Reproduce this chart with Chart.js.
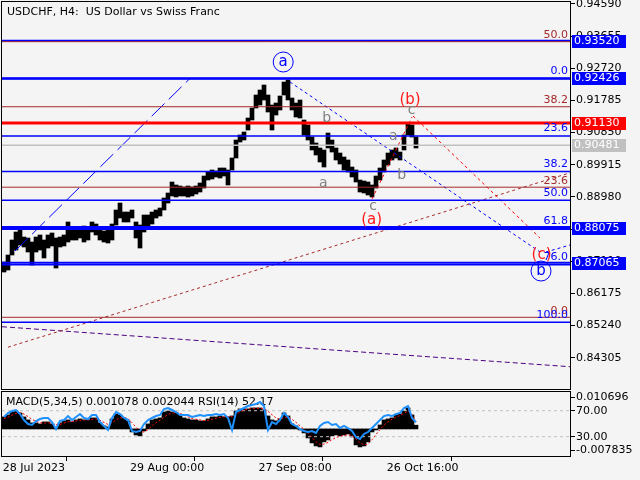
<!DOCTYPE html>
<html>
<head>
<meta charset="utf-8">
<script src="https://cdn.jsdelivr.net/npm/chart.js@4.4.0/dist/chart.umd.min.js"></script>
<style>
  body { margin: 0; background: #f4f4f4; width: 640px; height: 480px; overflow: hidden; }
  #main { position: absolute; left: 0; top: 0; }
  #sub { position: absolute; left: 0; top: 390px; }
</style>
</head>
<body>
<canvas id="main" width="640" height="390"></canvas>
<canvas id="sub" width="640" height="90"></canvas>
<script>
// ---- data (x = bar index, one bar every ~4 H4 candles) ----
const barHigh = [
  0.87086,0.87290,0.87726,0.87959,0.88017,0.87813,0.87784,0.87668,0.87813,0.87872,
  0.87726,0.87872,0.87930,0.87784,0.87813,0.87872,0.88250,0.88017,0.88075,0.88046,
  0.88133,0.88075,0.88250,0.88191,0.88017,0.87988,0.88075,0.88191,0.88599,0.88802,
  0.88540,0.88540,0.88599,0.88250,0.88162,0.88453,0.88453,0.88540,0.88599,0.88657,
  0.88948,0.89093,0.89413,0.89326,0.89297,0.89268,0.89297,0.89268,0.89297,0.89384,
  0.89587,0.89704,0.89762,0.89733,0.89820,0.89820,0.89762,0.90111,0.90634,0.90780,
  0.90867,0.91274,0.91565,0.91943,0.92089,0.92234,0.91943,0.91652,0.91710,0.91914,
  0.92321,0.92379,0.91856,0.91710,0.91798,0.91216,0.91071,0.90722,0.90547,0.90402,
  0.90344,0.90838,0.90634,0.90402,0.90256,0.90140,0.90053,0.89849,0.89762,0.89471,
  0.89442,0.89413,0.89326,0.89587,0.89820,0.90053,0.90256,0.90344,0.90402,0.90285,
  0.90780,0.91129,0.91071,0.90722
];
const barLow = [
  0.86795,0.86854,0.87290,0.87435,0.87581,0.87523,0.87377,0.86999,0.87377,0.87435,
  0.87203,0.87493,0.87552,0.86912,0.87523,0.87552,0.87668,0.87726,0.87726,0.87784,
  0.87668,0.87726,0.87959,0.87872,0.87726,0.87668,0.87639,0.87726,0.88162,0.88366,
  0.88250,0.88250,0.88366,0.87784,0.87493,0.87959,0.88075,0.88191,0.88366,0.88424,
  0.88599,0.88802,0.89006,0.88977,0.89006,0.89006,0.88977,0.89006,0.89064,0.89122,
  0.89238,0.89471,0.89500,0.89558,0.89529,0.89587,0.89326,0.89762,0.90111,0.90576,
  0.90634,0.90925,0.91216,0.91565,0.91652,0.91798,0.91449,0.90925,0.91361,0.91507,
  0.91943,0.91798,0.91507,0.91303,0.91274,0.90780,0.90634,0.90344,0.90198,0.89995,
  0.89849,0.90402,0.90285,0.90053,0.89936,0.89762,0.89704,0.89558,0.89413,0.89122,
  0.89093,0.89035,0.88977,0.89238,0.89471,0.89704,0.89907,0.90053,0.90111,0.90053,
  0.90344,0.90780,0.90722,0.90402
];
const macd = [
  0.00348,0.00405,0.00492,0.00521,0.00463,0.00348,0.00261,0.00174,0.00174,0.00145,
  0.00203,0.00203,0.00145,0.00029,0.00174,0.00232,0.00261,0.00203,0.00261,0.00290,
  0.00261,0.00261,0.00319,0.00319,0.00174,0.00087,0.00058,0.00290,0.00434,0.00405,
  0.00319,0.00232,-0.00087,-0.00174,-0.00203,-0.00058,0.00145,0.00261,0.00290,0.00319,
  0.00492,0.00521,0.00492,0.00463,0.00405,0.00319,0.00290,0.00261,0.00261,0.00232,
  0.00232,0.00290,0.00348,0.00348,0.00376,0.00348,0.00348,0.00376,0.00521,0.00579,
  0.00579,0.00579,0.00608,0.00608,0.00608,0.00550,0.00376,0.00261,0.00232,0.00290,
  0.00463,0.00376,0.00145,0.00087,-0.00029,-0.00116,-0.00261,-0.00405,-0.00492,-0.00521,
  -0.00376,-0.00319,-0.00203,-0.00174,-0.00203,-0.00174,-0.00145,-0.00232,-0.00463,-0.00521,
  -0.00492,-0.00376,-0.00087,-0.00029,0.00116,0.00261,0.00290,0.00319,0.00405,0.00434,
  0.00521,0.00608,0.00405,0.00108
];
const signal = [
  0.00300,0.00340,0.00400,0.00450,0.00470,0.00430,0.00360,0.00280,0.00220,0.00180,
  0.00170,0.00180,0.00170,0.00120,0.00130,0.00170,0.00210,0.00210,0.00230,0.00250,
  0.00260,0.00260,0.00280,0.00290,0.00250,0.00190,0.00130,0.00180,0.00260,0.00320,
  0.00330,0.00300,0.00180,0.00050,-0.00070,-0.00090,-0.00020,0.00090,0.00180,0.00250,
  0.00340,0.00420,0.00460,0.00470,0.00450,0.00400,0.00350,0.00300,0.00280,0.00260,
  0.00240,0.00250,0.00280,0.00310,0.00340,0.00350,0.00350,0.00360,0.00420,0.00490,
  0.00540,0.00570,0.00590,0.00600,0.00600,0.00590,0.00510,0.00410,0.00320,0.00280,
  0.00330,0.00350,0.00280,0.00190,0.00090,-0.00010,-0.00120,-0.00250,-0.00370,-0.00450,
  -0.00440,-0.00390,-0.00310,-0.00250,-0.00210,-0.00190,-0.00170,-0.00190,-0.00290,-0.00400,
  -0.00460,-0.00440,-0.00310,-0.00160,-0.00020,0.00110,0.00210,0.00280,0.00340,0.00390,
  0.00450,0.00520,0.00420,0.00204
];
const rsi = [
  60.3,66.5,69.5,71.1,64.9,55.7,49.5,48.0,54.2,57.2,
  58.8,58.8,52.6,41.8,54.2,55.7,61.8,55.7,60.3,64.9,
  58.8,57.2,63.4,63.4,52.6,46.5,40.3,58.8,68.0,64.9,
  58.8,55.7,38.8,37.2,38.8,49.5,55.7,58.8,61.8,63.4,
  72.6,74.2,71.1,68.0,63.4,63.4,63.4,60.3,61.8,63.4,
  61.8,63.4,63.4,64.9,63.4,64.9,58.8,40.3,68.0,71.1,
  74.2,77.2,78.8,80.3,83.4,77.2,40.3,52.6,49.5,55.7,
  66.5,60.3,49.5,46.5,41.8,38.8,37.2,38.8,35.7,46.5,
  51.1,52.6,48.0,49.5,43.4,46.5,43.4,38.8,29.5,26.5,
  34.2,37.2,43.4,49.5,55.7,61.8,63.4,61.8,64.9,66.5,
  74.2,77.2,58.8,52.2
];
const rsiLevels = [70, 30];

const dateLabels = ['28 Jul 2023', '29 Aug 00:00', '27 Sep 08:00', '26 Oct 16:00'];
const dateTickPos = [-0.33, 31.5, 63.6, 95.7];
const priceTicks = [0.94590,0.93655,0.92720,0.91785,0.90850,0.89915,0.88980,0.88045,0.87110,0.86175,0.85240,0.84305];

// horizontal price levels with their boxes on the axis
const levelPrices = [0.93520, 0.92426, 0.91130, 0.90481, 0.88075, 0.87065];
const levelColors = ['#0000ff', '#0000ff', '#ff0000', '#c0c0c0', '#0000ff', '#0000ff'];
const levelWidths = [2, 2.5, 3, 1.5, 4, 2];

// fibonacci grids
const fibBlue = [0.92426, 0.90752, 0.89716, 0.88880, 0.88043, 0.87005, 0.85333];
const fibBlueText = ['0.0', '23.6', '38.2', '50.0', '61.8', '76.0', '100.0'];
const fibBrown = [0.85478, 0.89262, 0.91602, 0.93494];
const fibBrownText = ['0.0', '23.6', '38.2', '50.0'];

// trend lines: [x1, price1, x2, price2]
const trendBlueDash = [2.75, 0.87406, 46.5, 0.92426];
const trendBlueDot = [71.5, 0.92321, 134, 0.87377];
const trendBlueDot2 = [135.5, 0.87377, 141.5, 0.87581];
const trendRedDot = [102.25, 0.91333, 134, 0.87784];
const trendRedUp = [92, 0.88919, 102, 0.91303];
const channelBrown = [1, 0.84609, 141.5, 0.89680];
const channelPurple = [-0.5, 0.85204, 141.5, 0.84041];

// wave labels
const waveText = ['a', '(b)', 'c', 'b', 'a', 'a', 'b', 'c', '(a)', '(c)', 'b'];
const waveX = [69.8, 101.5, 101.9, 80.7, 79.8, 97.3, 99.4, 92.3, 91.9, 134.4, 134.25];
const waveY = [0.92903, 0.91798, 0.91507, 0.91266, 0.89375, 0.90730, 0.89617, 0.88695, 0.88308, 0.87290, 0.86824];
const waveKind = ['circle', 'red', 'gray', 'gray', 'gray', 'gray', 'gray', 'gray', 'red', 'red', 'circle'];

const X_MIN = -0.5, X_MAX = 141.5;
const FONT = '"DejaVu Sans"';
Chart.defaults.font.family = 'DejaVu Sans';
Chart.defaults.font.size = 11;
Chart.defaults.color = '#000';

function hLine(p, color, w) {
  return { type: 'line', data: [{x: X_MIN, y: p}, {x: X_MAX, y: p}], borderColor: color,
           borderWidth: w, pointRadius: 0, order: 1 };
}
function seg(t, color, w, dash) {
  return { type: 'line', data: [{x: t[0], y: t[1]}, {x: t[2], y: t[3]}], borderColor: color,
           borderWidth: w, borderDash: dash, pointRadius: 0, order: 1 };
}

const datasets = [{
  type: 'bar',
  data: barHigh.map((h, i) => ({x: i, y: [barLow[i], h]})),
  backgroundColor: '#000',
  barPercentage: 1,
  categoryPercentage: 1,
  order: 10
}];
fibBrown.forEach(p => datasets.push(hLine(p, '#a52a2a', 1)));
fibBlue.forEach(p => datasets.push(hLine(p, '#0000ff', 1.5)));
levelPrices.forEach((p, i) => datasets.push(hLine(p, levelColors[i], levelWidths[i])));
datasets.push(seg(trendBlueDash, '#0000ff', 1, [18, 6]));
datasets.push(seg(trendBlueDot, '#0000ff', 1, [3, 3]));
datasets.push(seg(trendBlueDot2, '#0000ff', 1, [3, 3]));
datasets.push(seg(trendRedDot, '#ff0000', 1, [3, 3]));
datasets.push(seg(trendRedUp, '#ff0000', 1, [3, 3]));
datasets.push(seg(channelBrown, '#a52a2a', 1, [3, 3]));
datasets.push(seg(channelPurple, '#4b0082', 1, [5, 3]));

const mainOverlay = {
  id: 'mainOverlay',
  afterDraw(chart) {
    const {ctx, chartArea: a, scales: {x, y}} = chart;
    ctx.save();
    ctx.strokeStyle = '#000';
    ctx.lineWidth = 1;
    ctx.strokeRect(a.left - 0.5, a.top - 0.5, a.right - a.left + 1, a.bottom - a.top + 1);

    ctx.font = '11px ' + FONT;
    ctx.fillStyle = '#000';
    ctx.textAlign = 'left';
    ctx.textBaseline = 'middle';
    ctx.fillText('USDCHF, H4:  US Dollar vs Swiss Franc', 7, 12);

    ctx.textAlign = 'right';
    ctx.textBaseline = 'bottom';
    fibBrown.forEach((p, i) => {
      ctx.fillStyle = '#a52a2a';
      ctx.fillText(fibBrownText[i], a.right - 2, y.getPixelForValue(p) - 1);
    });
    fibBlue.forEach((p, i) => {
      ctx.fillStyle = '#0000ff';
      ctx.fillText(fibBlueText[i], a.right - 2, y.getPixelForValue(p) - 2);
    });

    ctx.textAlign = 'center';
    ctx.textBaseline = 'middle';
    waveText.forEach((t, i) => {
      const px = x.getPixelForValue(waveX[i]), py = y.getPixelForValue(waveY[i]);
      const k = waveKind[i];
      if (k === 'circle') {
        ctx.strokeStyle = '#0000ff';
        ctx.beginPath(); ctx.arc(px, py, 10, 0, Math.PI * 2); ctx.stroke();
        ctx.fillStyle = '#0000ff';
        ctx.font = '15px ' + FONT;
      } else if (k === 'red') {
        ctx.fillStyle = '#ff1a1a';
        ctx.font = '15px ' + FONT;
      } else {
        ctx.fillStyle = '#808080';
        ctx.font = '14px ' + FONT;
      }
      ctx.fillText(t, px, py);
    });

    ctx.font = '11px ' + FONT;
    ctx.textAlign = 'left';
    levelPrices.forEach((p, i) => {
      const py = Math.round(y.getPixelForValue(p));
      ctx.fillStyle = levelColors[i];
      ctx.fillRect(a.right + 2, py - 6, 54, 13);
      ctx.fillStyle = '#fff';
      ctx.fillText(p.toFixed(5), a.right + 4, py + 0.5);
    });
    ctx.restore();
  }
};

new Chart(document.getElementById('main'), {
  type: 'bar',
  data: { datasets: datasets },
  options: {
    responsive: false,
    animation: false,
    layout: { padding: { left: 2, top: 2, right: 0, bottom: 1 } },
    plugins: { legend: { display: false }, tooltip: { enabled: false } },
    scales: {
      x: { type: 'linear', min: X_MIN, max: X_MAX, offset: false, display: false },
      y: {
        type: 'linear', position: 'right', min: 0.83393, max: 0.94648,
        afterBuildTicks: s => { s.ticks = priceTicks.map(v => ({value: v})); },
        afterFit: s => { s.width = 70; s.paddingTop = 0; s.paddingBottom = 0; },
        ticks: { autoSkip: false, padding: 1, color: '#000', callback: v => v.toFixed(5) },
        grid: { drawOnChartArea: false, tickLength: 5, tickColor: '#000' },
        border: { color: '#000' }
      }
    }
  },
  plugins: [mainOverlay]
});

// ---- MACD / RSI sub-window ----
const macdMin = -0.007835, macdMax = 0.010696;
const subOverlay = {
  id: 'subOverlay',
  beforeDatasetsDraw(chart) {
    const ctx = chart.ctx;
    ctx.save();
    ctx.font = '11px ' + FONT;
    ctx.fillStyle = '#000';
    ctx.textAlign = 'left';
    ctx.textBaseline = 'middle';
    ctx.fillText('MACD(5,34,5) 0.001078 0.002044 RSI(14) 52.17', 6, 12.5);
    ctx.restore();
  },
  afterDraw(chart) {
    const {ctx, chartArea: a} = chart;
    ctx.save();
    ctx.strokeStyle = '#000';
    ctx.lineWidth = 1;
    ctx.strokeRect(a.left - 0.5, a.top - 0.5, a.right - a.left + 1, a.bottom - a.top + 1);
    ctx.restore();
  }
};

const subSets = [
  { type: 'bar', yAxisID: 'macd', data: macd.map((v, i) => ({x: i, y: v})),
    backgroundColor: '#000', barPercentage: 1, categoryPercentage: 1, order: 10 },
  { type: 'line', yAxisID: 'macd', data: signal.map((v, i) => ({x: i, y: v})),
    borderColor: '#ff0000', borderWidth: 1, borderDash: [2, 2], pointRadius: 0, order: 2 },
  { type: 'line', yAxisID: 'rsi', data: rsi.map((v, i) => ({x: i, y: v})),
    borderColor: '#1e90ff', borderWidth: 2, pointRadius: 0, order: 1 }
];
rsiLevels.forEach(v => subSets.push({
  type: 'line', yAxisID: 'rsi', data: [{x: X_MIN, y: v}, {x: X_MAX, y: v}],
  borderColor: '#c0c0c0', borderWidth: 1, borderDash: [3, 3], pointRadius: 0, order: 5
}));

new Chart(document.getElementById('sub'), {
  type: 'bar',
  data: { datasets: subSets },
  options: {
    responsive: false,
    animation: false,
    layout: { padding: { left: 2, top: 2, right: 0, bottom: 0 } },
    plugins: { legend: { display: false }, tooltip: { enabled: false } },
    scales: {
      x: {
        type: 'linear', min: X_MIN, max: X_MAX, offset: false, position: 'bottom',
        afterBuildTicks: s => { s.ticks = dateTickPos.map(v => ({value: v})); },
        afterFit: s => { s.height = 24; s.paddingLeft = 0; s.paddingRight = 0; },
        ticks: { autoSkip: false, maxRotation: 0, align: 'start', padding: 1, color: '#000',
                 callback: (v, i) => dateLabels[i] },
        grid: { drawOnChartArea: false, tickLength: 5, tickColor: '#000' },
        border: { color: '#000' }
      },
      macd: { type: 'linear', min: macdMin, max: macdMax, display: false },
      rsi: {
        type: 'linear', position: 'right', min: 0.3, max: 98.8,
        afterBuildTicks: s => { s.ticks = [91.1, 70, 30, 9.5].map(v => ({value: v})); },
        afterFit: s => { s.width = 70; s.paddingTop = 0; s.paddingBottom = 0; },
        ticks: { autoSkip: false, padding: 1, color: '#000',
                 callback: v => (v === 70 || v === 30) ? v.toFixed(2) : (v > 50 ? '0.010696' : '-0.007835') },
        grid: { drawOnChartArea: false, tickLength: 5, tickColor: '#000' },
        border: { color: '#000' }
      }
    }
  },
  plugins: [subOverlay]
});
</script>
</body>
</html>
